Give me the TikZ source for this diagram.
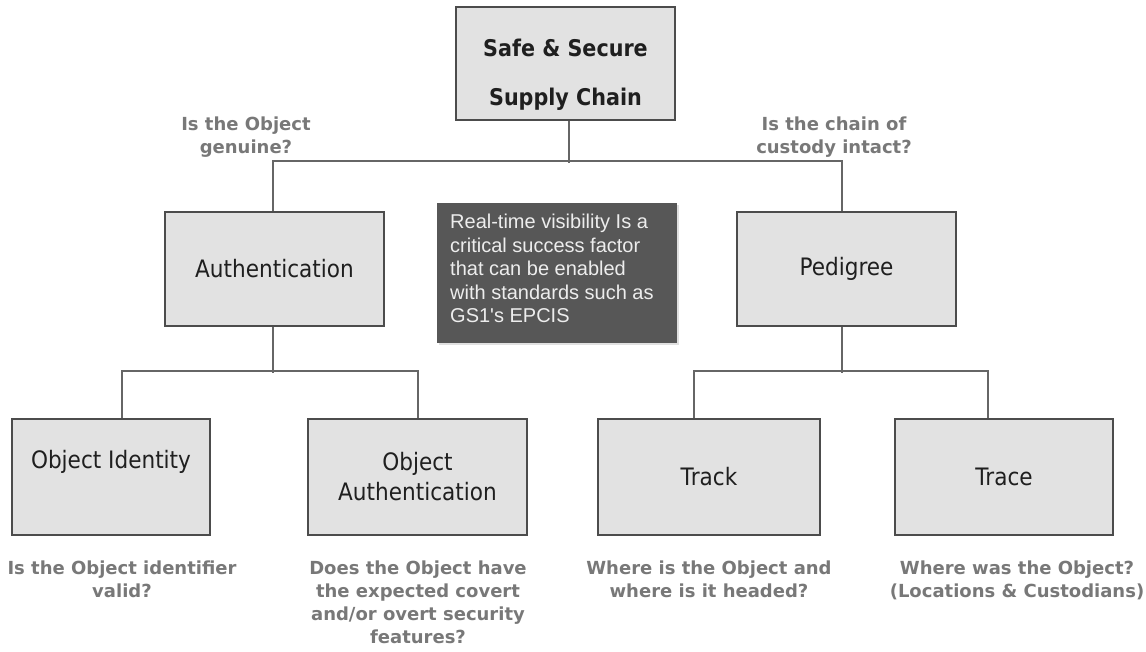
\documentclass[tikz,border=0pt]{standalone}
\usepackage{fontspec}
\setmainfont{DejaVu Sans}
\newfontfamily\boxfont[FakeStretch=0.9]{DejaVu Sans}
\newfontfamily\qfont{DejaVu Sans}
\newfontfamily\notefont{Liberation Sans}
\usetikzlibrary{shadows}
\definecolor{boxfill}{HTML}{E2E2E2}
\definecolor{boxline}{HTML}{4C4C4C}
\definecolor{linkgray}{HTML}{666666}
\definecolor{qgray}{HTML}{787878}
\definecolor{notefill}{HTML}{575757}
\definecolor{notetext}{HTML}{EDEDED}
\begin{document}
\begin{tikzpicture}[x=1pt,y=-1pt,
  box/.style={draw=boxline, line width=2pt, fill=boxfill, inner sep=0pt,
    font={\boxfont\fontsize{24}{30}\selectfont}, text=black!88, align=center},
  link/.style={draw=linkgray, line width=2pt},
  question/.style={font={\qfont\bfseries\fontsize{18}{23}\selectfont}, text=qgray, align=center, inner sep=0pt},
  note/.style={fill=notefill, inner sep=0pt, text=notetext,
    drop shadow={shadow xshift=2pt, shadow yshift=-2pt, opacity=0.3, fill=black!40}}
]
\useasboundingbox (0,0) rectangle (1146,652);

% top of the tree
\node[box, minimum width=219pt, minimum height=113pt,
  label={[font={\boxfont\bfseries\fontsize{23}{49}\selectfont}, text=black!88, align=center, yshift=-11pt]center:Safe \& Secure\\Supply Chain}]
  (top) at (565.5,64) {};

% second level
\node[box, minimum width=219pt, minimum height=114pt] (auth) at (274.5,269) {Authentication};
\node[box, minimum width=219pt, minimum height=114pt] (ped) at (846.5,269) {Pedigree};

% third level
\node[box, minimum width=198pt, minimum height=116pt,
  label={[font={\boxfont\fontsize{24}{30}\selectfont}, text=black!88, yshift=15pt]center:Object Identity}]
  (oid) at (111,477) {};
\node[box, minimum width=219pt, minimum height=116pt] (oauth) at (417.5,477) {Object\\Authentication};
\node[box, minimum width=222pt, minimum height=116pt] (track) at (709,477) {Track};
\node[box, minimum width=218pt, minimum height=116pt] (trace) at (1004,477) {Trace};

% connectors
\draw[link] ([xshift=3.5pt]top.south) -- ++(0,42);
\draw[link] ([xshift=-1.5pt]auth.north) -- ++(0,-50) -| ([xshift=-4.5pt]ped.north);
\draw[link] ([xshift=-2pt]auth.south) -- ++(0,46);
\draw[link] ([xshift=11pt]oid.north) -- ++(0,-47) -| (oauth.north);
\draw[link] ([xshift=-4.5pt]ped.south) -- ++(0,46);
\draw[link] ([xshift=-15pt]track.north) -- ++(0,-47) -| ([xshift=-16pt]trace.north);

% guiding questions
\node[question] (q1) at (246,137) {Is the Object\\genuine?};
\node[question] (q2) at (834,137) {Is the chain of\\custody intact?};
\node[question, anchor=north] (q3) at (122,561) {Is the Object identifier\\valid?};
\node[question, anchor=north] (q4) at (418,561) {Does the Object have\\the expected covert\\and/or overt security\\features?};
\node[question, anchor=north] (q5) at (709,561) {Where is the Object and\\where is it headed?};
\node[question, anchor=north] (q6) at (1017,561) {Where was the Object?\\(Locations \& Custodians)};

% call-out
\node[note, minimum width=240pt, minimum height=140pt] (callout) at (557,273) {};
\node[font={\notefont\fontsize{20}{23.5}\selectfont}, text=notetext, align=left, anchor=north west, inner sep=0pt]
  (callouttext) at (450,214) {Real-time visibility Is a\\critical success factor\\that can be enabled\\with standards such as\\GS1's EPCIS};
\end{tikzpicture}
\end{document}
